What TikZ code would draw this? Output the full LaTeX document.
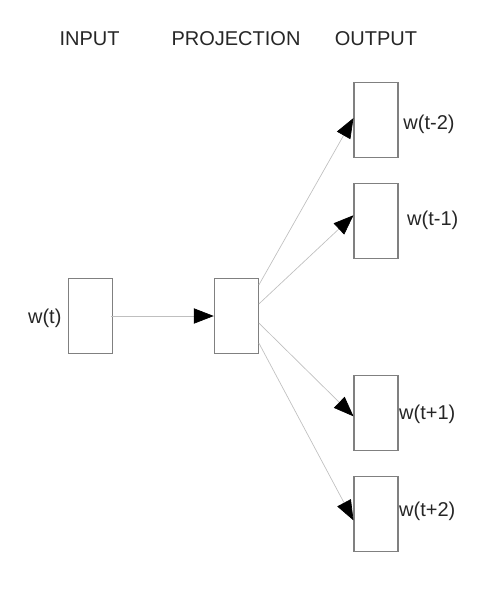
\documentclass[tikz,border=0pt]{standalone}
\usepackage{fontspec}
\setmainfont{Liberation Sans}
\usepackage{tikz}
\usetikzlibrary{arrows.meta, positioning}

\begin{document}
\begin{tikzpicture}[x=0.75pt,y=-0.75pt,node distance=18.75pt,->,>={Triangle[length=15pt,width=11.5pt,color=black]},
	font=\fontsize{15pt}{18pt}\selectfont,text=black!85]
	
	\useasboundingbox (0,0) rectangle (480,589);
	
	\tikzset{node box/.style={rectangle, draw=black!50,
			line width=0.8pt,
			minimum width=33pt, minimum height=56pt, inner sep=0pt}}
	\tikzset{node lbl/.style={inner sep=0pt}}
	
	% titles
	\node[anchor=base] (tin) at (89.5,45) {INPUT};
	\node[anchor=base] (tproj) at (236,45) {PROJECTION};
	\node[anchor=base] (tout) at (376,45) {OUTPUT};
	
	\node[node box] (proj) at (236.3,316) {};
	\node[node box, left=75.75pt of proj] (in) {};
	\node[node box] (out1) at (376,120) {};
	\node[node box, below=of out1] (out2) {};
	\node[node box, below=87.5pt of out2] (out3) {};
	\node[node box, below=of out3] (out4) {};
	
	\node[node lbl, left=4.5pt of in, yshift=-2pt] (lin) {w(t)};
	\node[node lbl, right=3.5pt of out1, yshift=-3pt] (l1) {w(t-2)};
	\node[node lbl, right=6.3pt of out2] (l2) {w(t-1)};
	\node[node lbl, right=0.3pt of out3, yshift=-1.2pt] (l3) {w(t+1)};
	\node[node lbl, right=0.3pt of out4, yshift=2.2pt] (l4) {w(t+2)};
	
	\path[every edge/.style={draw=black!25,
		line width=0.5pt}]
	([xshift=-1pt]in.east) edge (proj.west)
	([yshift=23.25pt]proj.east) edge ([yshift=1.5pt]out1.west)
	([yshift=9pt]proj.east) edge ([yshift=4.1pt]out2.west)
	([yshift=-5.25pt]proj.east) edge ([yshift=-2.4pt]out3.west)
	([yshift=-20.25pt]proj.east) edge ([yshift=-4.9pt]out4.west);
\end{tikzpicture}
\end{document}
